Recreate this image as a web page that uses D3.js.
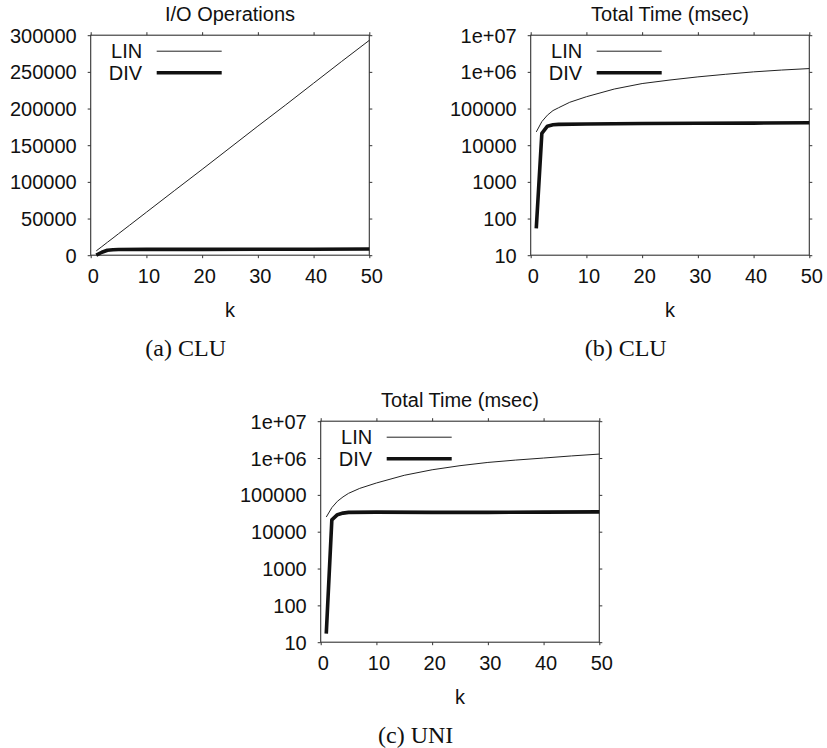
<!DOCTYPE html>
<html>
<head>
<meta charset="utf-8">
<script src="https://cdn.jsdelivr.net/npm/d3@7"></script>
<style>
  body { margin: 0; background: #fff; }
  svg text { font-family: "Liberation Sans", Arial, sans-serif; fill: #111; }
  .caption { font-family: "Liberation Serif", "Times New Roman", serif; }
  .frame { fill: none; stroke: #333; stroke-width: 1.1; }
  .axis .domain { display: none; }
  .axis line { stroke: #333; }
</style>
</head>
<body>
<svg id="fig" width="827" height="748"></svg>
<script>
// ---- data ----
const kLin = [1, 2, 3, 4, 5, 7, 10, 15, 20, 25, 30, 35, 40, 45, 50];
const kDiv = [1, 2, 3, 4, 5, 10, 20, 30, 40, 50];

// (a) CLU, I/O operations
const ioLin = [5900, 11700, 17600, 23400, 29300, 41000, 58600, 87900, 117000, 146500, 176000, 205000, 234500, 264000, 293000];
const ioDiv = [100, 4000, 6800, 7500, 7700, 7900, 8000, 8100, 8200, 8400];

// (b) CLU, total time (msec)
const cluTimeLin = [23000, 44000, 66000, 88000, 105000, 148000, 210000, 340000, 480000, 600000, 730000, 860000, 1000000, 1120000, 1230000];
const cluTimeDiv = [54, 21000, 33000, 36000, 37000, 38000, 39000, 39500, 40000, 41000];

// (c) UNI, total time (msec)
const uniTimeLin = [25000, 45000, 67000, 88000, 110000, 150000, 210000, 340000, 480000, 620000, 760000, 880000, 1000000, 1140000, 1280000];
const uniTimeDiv = [17, 21000, 29000, 32000, 33500, 34000, 33500, 33500, 34000, 34500];

// ticks
const kTicks = [0, 10, 20, 30, 40, 50];
const ioTicks = [0, 50000, 100000, 150000, 200000, 250000, 300000];
const timeTicks = [10, 100, 1000, 10000, 100000, 1000000, 10000000];
const timeTickLabels = ["10", "100", "1000", "10000", "100000", "1e+06", "1e+07"];

const seriesNames = ["LIN", "DIV"];

const svg = d3.select('#fig');

function drawPanel(cfg) {
  const w = 278.6, h = cfg.h || 220;
  const g = svg.append('g').attr('transform', `translate(${cfg.left},${cfg.top})`);

  const x = d3.scaleLinear().domain([0, 50]).range([0, w]);
  const y = cfg.log
      ? d3.scaleLog().domain([10, 1e7]).range([h, 0])
      : d3.scaleLinear().domain([0, 300000]).range([h, 0]);

  const yTicks = cfg.log ? timeTicks : ioTicks;
  const yFmt = cfg.log ? (d => timeTickLabels[timeTicks.indexOf(d)]) : d3.format('d');

  // axes, gnuplot style: small outward ticks, mirrored on top/right
  g.append('g').attr('class', 'axis')
      .call(d3.axisLeft(y).tickValues(yTicks).tickFormat(yFmt).tickSize(3).tickPadding(11))
      .selectAll('text').style('font-size', '20px').attr('dy', '0.35em');
  g.append('g').attr('class', 'axis').attr('transform', `translate(${w},0)`)
      .call(d3.axisRight(y).tickValues(yTicks).tickFormat('').tickSize(3));
  const xb = g.append('g').attr('class', 'axis').attr('transform', `translate(0,${h})`)
      .call(d3.axisBottom(x).tickValues(kTicks).tickSize(3).tickPadding(11));
  xb.selectAll('text').style('font-size', '20px').attr('x', 2);
  g.append('g').attr('class', 'axis')
      .call(d3.axisTop(x).tickValues(kTicks).tickFormat('').tickSize(3));

  g.append('rect').attr('class', 'frame').attr('width', w).attr('height', h);

  const line = d3.line().x(d => x(d[0])).y(d => y(d[1]));
  g.append('path')
      .datum(d3.zip(kLin, cfg.lin))
      .attr('fill', 'none').attr('stroke', '#222').attr('stroke-width', 1)
      .attr('d', line);
  g.append('path')
      .datum(d3.zip(kDiv, cfg.div))
      .attr('fill', 'none').attr('stroke', '#111').attr('stroke-width', 3.6)
      .attr('stroke-linejoin', 'round')
      .attr('d', line);

  // legend
  const leg = g.append('g').attr('transform', 'translate(0,16)');
  seriesNames.forEach((name, i) => {
    const yy = i * 21.5;
    leg.append('text').attr('x', 51.5).attr('y', yy).attr('dy', '0.35em')
        .style('text-anchor', 'end').style('font-size', '20px').text(name);
    leg.append('line').attr('x1', 66).attr('x2', 131).attr('y1', yy).attr('y2', yy)
        .attr('stroke', i === 0 ? '#222' : '#111')
        .attr('stroke-width', i === 0 ? 1 : 3.6);
  });

  // titles
  g.append('text').attr('x', w / 2).attr('y', -14)
      .style('text-anchor', 'middle').style('font-size', '20px').text(cfg.title);
  g.append('text').attr('x', w / 2).attr('y', h + 62)
      .style('text-anchor', 'middle').style('font-size', '20px').text('k');
  g.append('text').attr('class', 'caption').attr('x', 95).attr('y', h + 101)
      .style('text-anchor', 'middle').style('font-size', '24px').text(cfg.caption);
}

drawPanel({left: 90.7, top: 35.2, log: false, title: 'I/O Operations',
  caption: '(a) CLU', lin: ioLin, div: ioDiv});
drawPanel({left: 530.7, top: 35.2, log: true, title: 'Total Time (msec)',
  caption: '(b) CLU', lin: cluTimeLin, div: cluTimeDiv});
drawPanel({left: 320.7, top: 421.2, h: 221, log: true, title: 'Total Time (msec)',
  caption: '(c) UNI', lin: uniTimeLin, div: uniTimeDiv});
</script>
</body>
</html>
